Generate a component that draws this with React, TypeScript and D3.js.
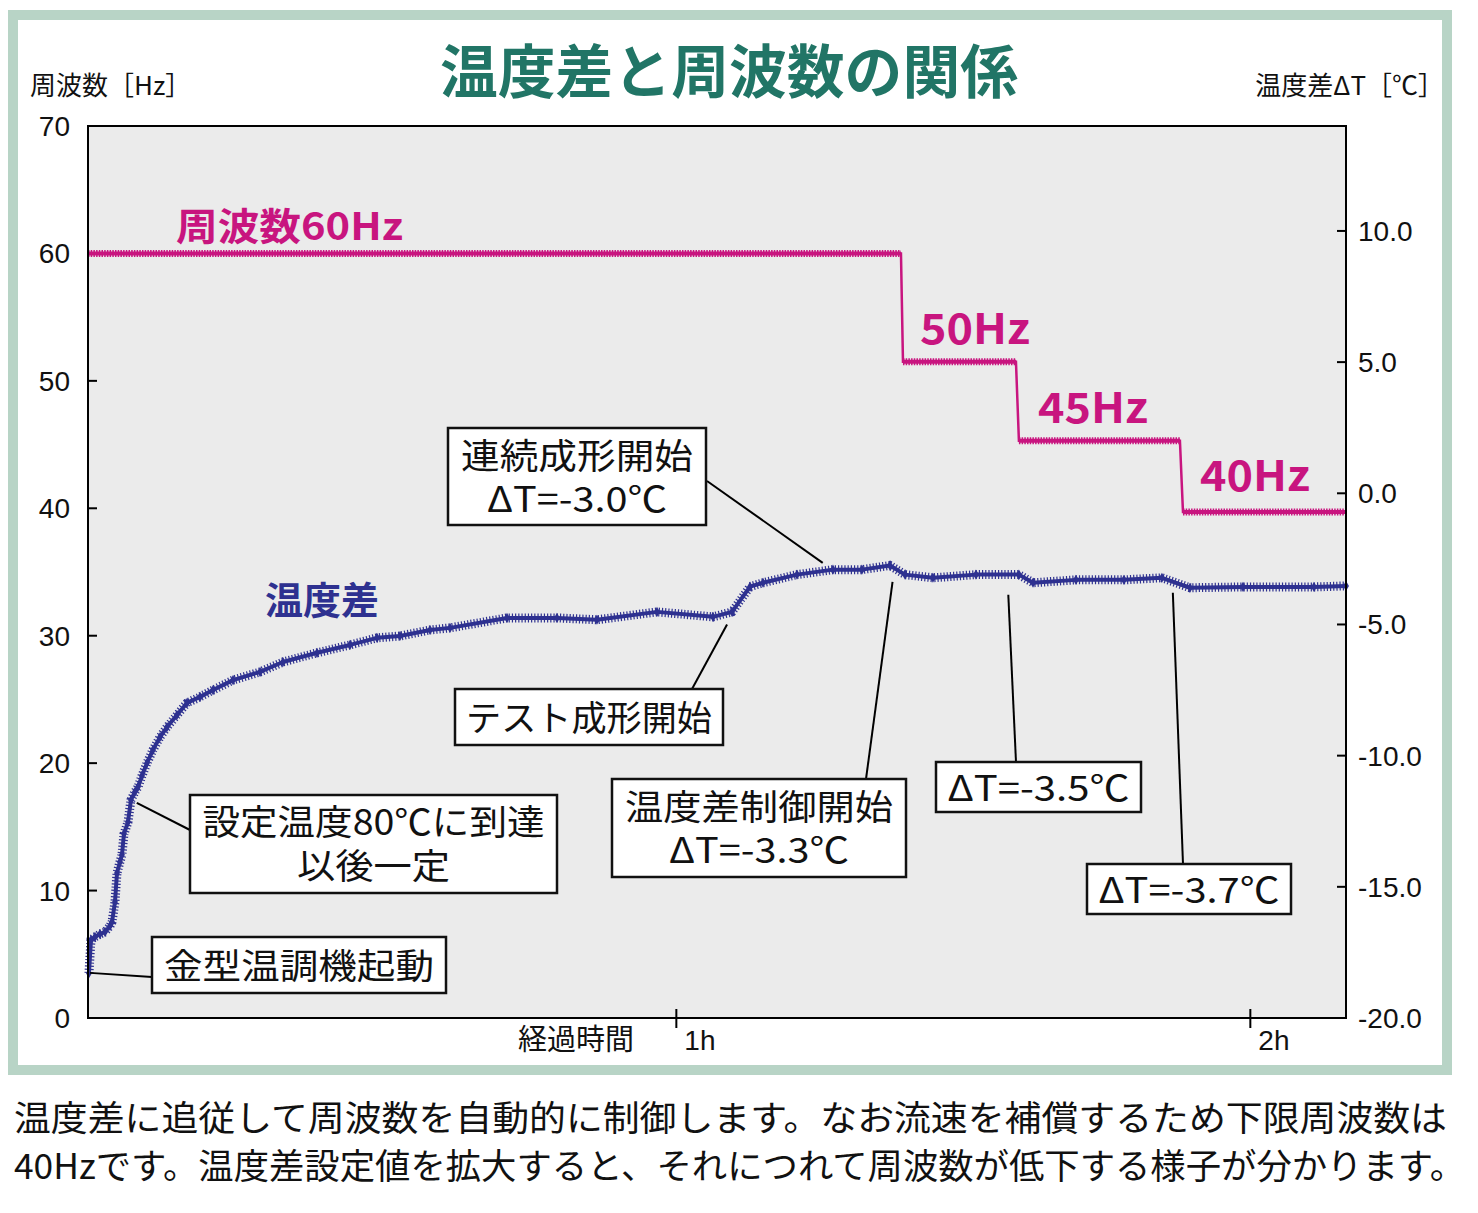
import React from "react";
import * as d3 from "d3";

// elapsed time [min] and temperature difference ΔT [°C] (right axis)
const tempTime = [
  -1.4, -1.19, -0.77, -0.25, 0.28, 0.8, 1.01, 1.32, 1.53, 1.84, 2.05, 2.26, 2.68, 2.99, 3.41, 3.73,
  4.14, 4.67, 5.29, 6.03, 6.76, 7.8, 8.85, 10.21, 11.57, 13.66, 16.48, 18.88, 22.44, 25.89, 28.71,
  31.11, 34.25, 36.34, 42.3, 47.52, 51.7, 57.98, 63.83, 65.82, 67.7, 69.06, 72.61, 76.37, 79.4,
  82.33, 83.9, 86.82, 91.32, 95.81, 97.28, 101.77, 106.79, 110.76, 113.69, 119.23, 126.65, 130,
];
const tempDelta = [
  -18.29, -17.03, -16.91, -16.8, -16.72, -16.49, -16.34, -15.58, -14.47, -14.05, -13.78, -12.98,
  -12.53, -11.69, -11.38, -11.19, -10.77, -10.28, -9.78, -9.29, -8.91, -8.45, -7.99, -7.76, -7.5,
  -7.12, -6.81, -6.43, -6.08, -5.78, -5.51, -5.44, -5.21, -5.13, -4.75, -4.75, -4.82, -4.52, -4.71,
  -4.52, -3.56, -3.41, -3.1, -2.91, -2.91, -2.75, -3.1, -3.22, -3.1, -3.1, -3.41, -3.3, -3.3, -3.22,
  -3.6, -3.57, -3.57, -3.53,
];

// frequency steps [Hz] (left axis)
const freqTime = [-1.5, 83.48, 83.69, 95.5, 95.81, 112.64, 112.96, 130];
const freqHz = [60, 60, 51.5, 51.5, 45.3, 45.3, 39.7, 39.7];

const hzTicks = [0, 10, 20, 30, 40, 50, 60, 70];
const dtTicks = [-20, -15, -10, -5, 0, 5, 10];
const hourTicks = [60, 120];
const hourLabels = ["1h", "2h"];

const stepLabels = ["周波数60Hz", "50Hz", "45Hz", "40Hz"];

// callouts: text lines, target point on the curve (time, ΔT)
const noteLines = [
  ["連続成形開始", "ΔT=-3.0℃"],
  ["テスト成形開始"],
  ["温度差制御開始", "ΔT=-3.3℃"],
  ["ΔT=-3.5℃"],
  ["ΔT=-3.7℃"],
  ["設定温度80℃に到達", "以後一定"],
  ["金型温調機起動"],
];
const noteTime = [75.3, 65.3, 82.6, 94.7, 111.9, 3.6, -1.29];
const noteDelta = [-2.65, -5.0, -3.38, -3.87, -3.79, -11.8, -18.28];

// layout of callout boxes (text widths as measured on the original)
const noteBoxes = [
  { x: 448, y: 428, w: 258, h: 97, lx: 707, ly: 481, base: [469, 512], len: [232, 180] },
  { x: 455, y: 689, w: 268, h: 56, lx: 692, ly: 689, base: [731], len: [246] },
  { x: 612, y: 779, w: 294, h: 98, lx: 866, ly: 779, base: [820, 863], len: [268, 180] },
  { x: 936, y: 762, w: 205, h: 50, lx: 1016, ly: 762, base: [801], len: [182] },
  { x: 1087, y: 864, w: 204, h: 50, lx: 1183, ly: 864, base: [903], len: [181] },
  { x: 190, y: 795, w: 367, h: 98, lx: 190, ly: 830, base: [835, 879], len: [342, 153] },
  { x: 152, y: 937, w: 294, h: 56, lx: 152, ly: 977, base: [979], len: [270] },
];

const MAGENTA = "#c8157f";
const BLUE = "#2e3190";
const GREEN = "#217566";
const FRAME = "#b8d4c6";
const JP = "'Noto Sans CJK JP', 'Noto Sans', sans-serif";
const NUM = "'Liberation Sans', Arial, sans-serif";

const App: React.FC = () => {
  const W = 1478;
  const H = 1213;
  const plot = { left: 88, right: 1346, top: 126, bottom: 1018 };

  const x = d3.scaleLinear().domain([-1.5, 130]).range([plot.left, plot.right]);
  const yHz = d3.scaleLinear().domain([0, 70]).range([plot.bottom, plot.top]);
  const yDt = d3.scaleLinear().domain([-20, 14]).range([plot.bottom, plot.top]);

  const tempPts = tempTime.map((t, i) => [x(t), yDt(tempDelta[i])] as [number, number]);
  const freqPts = freqTime.map((t, i) => [x(t), yHz(freqHz[i])] as [number, number]);
  const line = d3.line();

  // horizontal runs of the frequency steps get the marker texture
  const flatRuns: [number, number][][] = [];
  for (let i = 0; i < freqPts.length - 1; i++) {
    if (freqHz[i] === freqHz[i + 1]) flatRuns.push([freqPts[i], freqPts[i + 1]]);
  }

  const diamond = d3.symbol(d3.symbolDiamond, 30)();

  // label positions / widths for the step labels
  const stepPos = [
    { x: 176, y: 240, size: 38, len: 227 },
    { x: 920, y: 344, size: 42, len: 110 },
    { x: 1038, y: 423, size: 42, len: 110 },
    { x: 1200, y: 491, size: 42, len: 110 },
  ];

  return (
    <svg
      width={W}
      height={H}
      viewBox={`0 0 ${W} ${H}`}
      style={{ position: "absolute", left: 0, top: 0, background: "#fff" }}
    >
      {/* outer frame */}
      <rect x={13} y={15} width={1434} height={1055} fill="#fff" stroke={FRAME} strokeWidth={10} />

      <text
        x={729}
        y={93}
        textAnchor="middle"
        fontFamily={JP}
        fontWeight={700}
        fontSize={58}
        fill={GREEN}
        textLength={578}
        lengthAdjust="spacingAndGlyphs"
      >
        温度差と周波数の関係
      </text>
      <text x={30} y={95} fontFamily={JP} fontSize={26} fill="#111">周波数［Hz］</text>
      <text x={1444} y={95} textAnchor="end" fontFamily={JP} fontSize={26} fill="#111">温度差ΔT［℃］</text>

      {/* plot area */}
      <rect x={plot.left} y={plot.top} width={plot.right - plot.left} height={plot.bottom - plot.top} fill="#ebebeb" />

      {/* left axis */}
      {hzTicks.map((v) => (
        <g key={`hz${v}`}>
          {v > 0 && v < 70 && (
            <line x1={plot.left} x2={plot.left + 9} y1={yHz(v)} y2={yHz(v)} stroke="#000" strokeWidth={2} />
          )}
          <text x={70} y={yHz(v) + 10} textAnchor="end" fontFamily={NUM} fontSize={28} fill="#111">
            {v}
          </text>
        </g>
      ))}

      {/* right axis */}
      {dtTicks.map((v) => (
        <g key={`dt${v}`}>
          {v > -20 && (
            <line x1={plot.right - 9} x2={plot.right} y1={yDt(v)} y2={yDt(v)} stroke="#000" strokeWidth={2} />
          )}
          <text x={1358} y={yDt(v) + 10} fontFamily={NUM} fontSize={28} fill="#111">
            {v.toFixed(1)}
          </text>
        </g>
      ))}

      {/* time axis */}
      {hourTicks.map((t, i) => (
        <g key={`h${t}`}>
          <line x1={x(t)} x2={x(t)} y1={plot.bottom - 9} y2={plot.bottom + 10} stroke="#000" strokeWidth={2} />
          <text x={x(t) + 8} y={1050} fontFamily={NUM} fontSize={28} fill="#111">
            {hourLabels[i]}
          </text>
        </g>
      ))}
      <text x={518} y={1050} fontFamily={JP} fontSize={29} fill="#111">経過時間</text>

      {/* frequency line */}
      <path d={line(freqPts) ?? ""} fill="none" stroke={MAGENTA} strokeWidth={2.5} />
      {flatRuns.map((r, i) => (
        <g key={`run${i}`}>
          <path d={line(r) ?? ""} fill="none" stroke={MAGENTA} strokeWidth={4} />
          <path d={line(r) ?? ""} fill="none" stroke={MAGENTA} strokeWidth={7} strokeDasharray="1.5 1.2" />
        </g>
      ))}

      {/* temperature difference line */}
      <path d={line(tempPts) ?? ""} fill="none" stroke={BLUE} strokeWidth={4} strokeLinejoin="round" />
      <path d={line(tempPts) ?? ""} fill="none" stroke={BLUE} strokeWidth={9} strokeDasharray="1.2 2" />
      {tempPts.map((p, i) => (
        <path key={`d${i}`} d={diamond ?? ""} transform={`translate(${p[0]},${p[1]})`} fill={BLUE} />
      ))}

      {/* series labels */}
      {stepLabels.map((s, i) => (
        <text
          key={s}
          x={stepPos[i].x}
          y={stepPos[i].y}
          fontFamily={JP}
          fontWeight={700}
          fontSize={stepPos[i].size}
          fill={MAGENTA}
          textLength={stepPos[i].len}
          lengthAdjust="spacingAndGlyphs"
        >
          {s}
        </text>
      ))}
      <text x={265} y={614} fontFamily={JP} fontWeight={700} fontSize={38} fill={BLUE}>温度差</text>

      {/* callouts */}
      {noteLines.map((lines, i) => {
        const b = noteBoxes[i];
        return (
          <g key={`n${i}`}>
            <line
              x1={b.lx}
              y1={b.ly}
              x2={x(noteTime[i])}
              y2={yDt(noteDelta[i])}
              stroke="#000"
              strokeWidth={2}
            />
            <rect x={b.x} y={b.y} width={b.w} height={b.h} fill="#fff" stroke="#111" strokeWidth={2.5} />
            {lines.map((s, j) => (
              <text
                key={s}
                x={b.x + b.w / 2}
                y={b.base[j]}
                textAnchor="middle"
                fontFamily={JP}
                fontSize={35}
                fill="#111"
                textLength={b.len[j]}
                lengthAdjust="spacingAndGlyphs"
              >
                {s}
              </text>
            ))}
          </g>
        );
      })}

      {/* plot border on top */}
      <rect
        x={plot.left}
        y={plot.top}
        width={plot.right - plot.left}
        height={plot.bottom - plot.top}
        fill="none"
        stroke="#000"
        strokeWidth={2}
      />

      {/* caption */}
      <text x={14} y={1131} fontFamily={JP} fontSize={35} fill="#111" textLength={1433} lengthAdjust="spacingAndGlyphs">
        温度差に追従して周波数を自動的に制御します。なお流速を補償するため下限周波数は
      </text>
      <text x={14} y={1179} fontFamily={JP} fontSize={35} fill="#111" textLength={1451} lengthAdjust="spacingAndGlyphs">
        40Hzです。温度差設定値を拡大すると、それにつれて周波数が低下する様子が分かります。
      </text>
    </svg>
  );
};

export default App;
